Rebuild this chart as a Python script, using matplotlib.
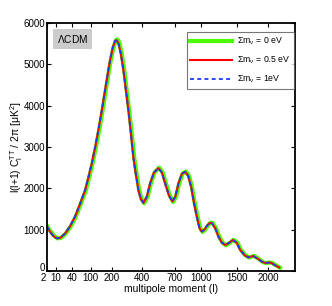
import numpy as np
import matplotlib
matplotlib.use('Agg')
import matplotlib.pyplot as plt
import matplotlib.transforms as mtransforms

plt.rcParams['font.family'] = ['Liberation Sans', 'DejaVu Sans']
plt.rcParams['mathtext.fontset'] = 'custom'
plt.rcParams['mathtext.rm'] = 'Liberation Sans'
plt.rcParams['mathtext.it'] = 'Liberation Sans'

# multipoles and D_l values (red / blue curves)
ell = [2, 4, 7, 11, 16, 24, 35, 48, 62, 79, 92, 104, 118, 132, 148, 164, 180,
       190, 204, 218, 228, 237, 252, 268, 284, 301, 318, 336, 349, 373, 392,
       412, 440, 467, 500, 540, 572, 603, 640, 675, 705, 738, 775, 811, 845,
       879, 912, 947, 980, 1008, 1040, 1075, 1110, 1136, 1180, 1226, 1270,
       1319, 1375, 1431, 1490, 1541, 1610, 1671, 1715, 1752, 1820, 1893, 1950,
       2008, 2060, 2100, 2150, 2200]
dl_05 = [1080, 950, 850, 790, 800, 900, 1080, 1320, 1620, 1960, 2300, 2610,
         3000, 3420, 3900, 4390, 4850, 5110, 5400, 5570, 5580, 5510, 5260,
         4870, 4390, 3900, 3350, 2750, 2450, 1960, 1740, 1650, 1800, 2120,
         2380, 2490, 2380, 2120, 1830, 1680, 1800, 2120, 2350, 2400, 2300,
         2040, 1650, 1310, 1030, 955, 1000, 1100, 1165, 1160, 1040, 830, 690,
         630, 680, 750, 680, 510, 380, 330, 350, 360, 300, 225, 195, 205, 195,
         160, 120, 85]
dl_1 = list(dl_05)

# green curve sits slightly to the right
ell_0 = [2, 4.5, 8, 12, 17, 25.5, 37, 50, 64.5, 82, 95, 107, 121, 136, 152,
         168, 184, 194, 208, 223, 233, 242, 257, 273, 289, 306, 324, 342, 355,
         379, 398, 418, 447, 474, 507, 547, 579, 611, 648, 683, 713, 746, 784,
         820, 854, 888, 921, 956, 990, 1018, 1050, 1085, 1120, 1146, 1191,
         1237, 1281, 1330, 1386, 1443, 1502, 1553, 1622, 1684, 1728, 1765,
         1833, 1906, 1964, 2022, 2074, 2114, 2164, 2214]
dl_0 = [1090, 955, 850, 790, 800, 900, 1080, 1320, 1620, 1960, 2300, 2610,
        3000, 3420, 3900, 4390, 4850, 5110, 5400, 5590, 5600, 5530, 5270,
        4880, 4400, 3900, 3350, 2750, 2450, 1960, 1740, 1640, 1800, 2120,
        2390, 2500, 2390, 2120, 1830, 1670, 1800, 2120, 2360, 2410, 2300,
        2040, 1650, 1310, 1030, 945, 1000, 1100, 1170, 1160, 1040, 830, 690,
        620, 680, 755, 680, 510, 380, 325, 350, 365, 300, 220, 190, 205, 195,
        160, 120, 80]

xticks = [2, 10, 40, 100, 200, 400, 700, 1000, 1500, 2000]
yticks = [0, 1000, 2000, 3000, 4000, 5000, 6000]

fig = plt.figure(figsize=(3.32, 3.06), dpi=100)
ax = fig.add_axes([0.1416, 0.1144, 0.747, 0.8105])

ax.set_xscale('function', functions=(lambda x: np.sqrt(np.clip(x, 0, None)),
                                     lambda x: np.square(x)))

ax.plot(ell_0, dl_0, color='#4cff00', lw=3.0, label=r'$\Sigma$m$_\nu$ = 0 eV')
ax.plot(ell, dl_05, color='#ff0000', lw=1.5, label=r'$\Sigma$m$_\nu$ = 0.5 eV')
ax.plot(ell, dl_1, color='#1a3cff', lw=1.3, ls=(0, (2.2, 1.8)),
        label=r'$\Sigma$m$_\nu$ = 1eV')

ax.set_xlim(2, 2500)
ax.set_ylim(0, 6000)
ax.set_xticks(xticks)
ax.set_xticklabels([str(t) for t in xticks])
ax.set_yticks(yticks)
ax.minorticks_off()
ax.tick_params(direction='in', top=True, right=True, length=3, width=0.8,
               labelsize=7, pad=1.5)
for s in ax.spines.values():
    s.set_linewidth(1.3)

# corner labels: "2" a little left, "0" a little up, as in the original
first = ax.get_xticklabels()[0]
first.set_transform(first.get_transform() +
                    mtransforms.ScaledTranslation(-4 / 100, 0, fig.dpi_scale_trans))
zero = ax.get_yticklabels()[0]
zero.set_transform(zero.get_transform() +
                   mtransforms.ScaledTranslation(0, 4 / 100, fig.dpi_scale_trans))

ax.set_xlabel('multipole moment (l)', fontsize=7.5, labelpad=1)
ax.set_ylabel(r'l(l+1) C$_\mathregular{l}^\mathregular{TT}$ / 2$\pi$ [$\mu$K$^\mathregular{2}$]',
              fontsize=7.5, labelpad=-1)

ax.text(0.04, 0.958, r'$\Lambda$CDM', transform=ax.transAxes, fontsize=7.3,
        va='top', ha='left',
        bbox=dict(boxstyle='square,pad=0.4', fc='#cccccc', ec='none'))

leg = ax.legend(loc='upper right', bbox_to_anchor=(0.997, 0.962), fontsize=6.3,
                frameon=True, fancybox=False, edgecolor='#555555',
                handlelength=4.8, labelspacing=0.85, borderpad=0.4,
                handletextpad=0.6, borderaxespad=0)
leg.get_frame().set_linewidth(0.8)

fig.savefig('out.png', dpi=100)
